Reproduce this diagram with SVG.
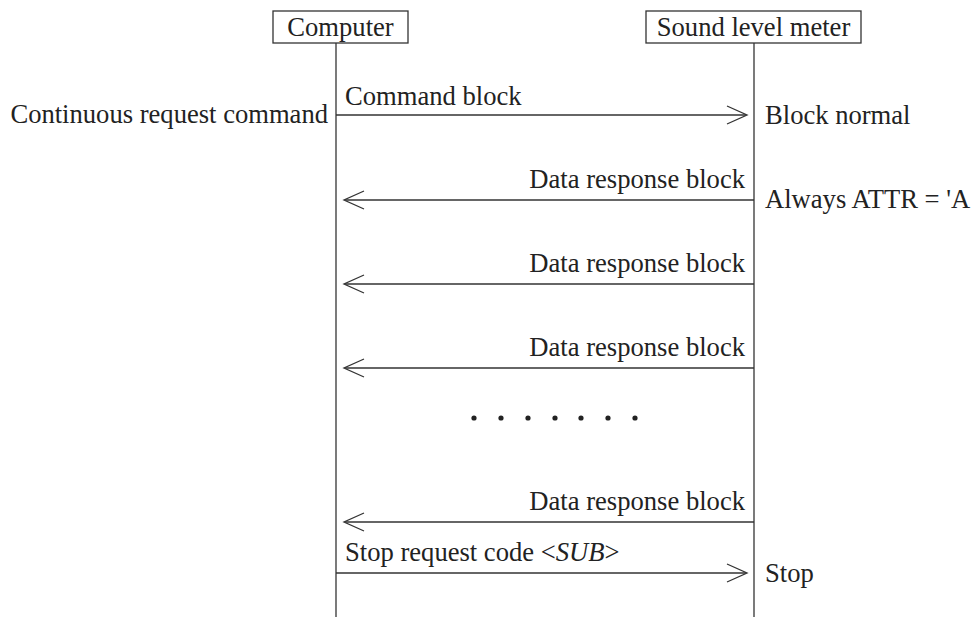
<svg xmlns="http://www.w3.org/2000/svg" width="974" height="617" viewBox="0 0 974 617">
<style>
text{font-family:"Liberation Serif","Times New Roman",serif;font-size:26.6px;fill:#222}
.box{fill:#fff;stroke:#333;stroke-width:1.3}
.ln{stroke:#333;stroke-width:1.3;fill:none}
.ah{stroke:#333;stroke-width:1.3;fill:none}
</style>
<rect width="974" height="617" fill="#fff"/>
<g id="computer">
<rect class="box" x="273" y="11" width="135" height="32"/>
<text x="340.5" y="36" text-anchor="middle">Computer</text>
<line class="ln" x1="336" y1="43" x2="336" y2="617"/>
</g>
<g id="meter">
<rect class="box" x="646" y="11" width="215" height="32"/>
<text x="753.5" y="36" text-anchor="middle">Sound level meter</text>
<line class="ln" x1="754" y1="43" x2="754" y2="617"/>
</g>
<g id="labels">
<text x="328" y="123" text-anchor="end">Continuous request command</text>
<text x="765" y="124">Block normal</text>
<text x="765" y="208">Always ATTR = 'A</text>
<text x="765" y="582">Stop</text>
</g>
<g id="connectors">
<line class="ln" x1="336" y1="115" x2="746" y2="115"/>
<path class="ah" d="M727,106 L747,115 L727,124"/>
<text x="345" y="105">Command block</text>
<line class="ln" x1="754" y1="200" x2="345" y2="200"/>
<path class="ah" d="M364,191 L344,200 L364,209"/>
<text x="745" y="188" text-anchor="end">Data response block</text>
<line class="ln" x1="754" y1="284" x2="345" y2="284"/>
<path class="ah" d="M364,275 L344,284 L364,293"/>
<text x="745" y="272" text-anchor="end">Data response block</text>
<line class="ln" x1="754" y1="368" x2="345" y2="368"/>
<path class="ah" d="M364,359 L344,368 L364,377"/>
<text x="745" y="356" text-anchor="end">Data response block</text>
<line class="ln" x1="754" y1="522" x2="345" y2="522"/>
<path class="ah" d="M364,513 L344,522 L364,531"/>
<text x="745" y="510" text-anchor="end">Data response block</text>
<line class="ln" x1="336" y1="573" x2="746" y2="573"/>
<path class="ah" d="M727,564 L747,573 L727,582"/>
<text x="345" y="561">Stop request code &lt;<tspan font-style="italic">SUB</tspan>&gt;</text>
</g>
<g id="dots" fill="#222">
<circle cx="474" cy="418" r="2.6"/>
<circle cx="501" cy="418" r="2.6"/>
<circle cx="528" cy="418" r="2.6"/>
<circle cx="555" cy="418" r="2.6"/>
<circle cx="581" cy="418" r="2.6"/>
<circle cx="608" cy="418" r="2.6"/>
<circle cx="635" cy="418" r="2.6"/>
</g>
</svg>
